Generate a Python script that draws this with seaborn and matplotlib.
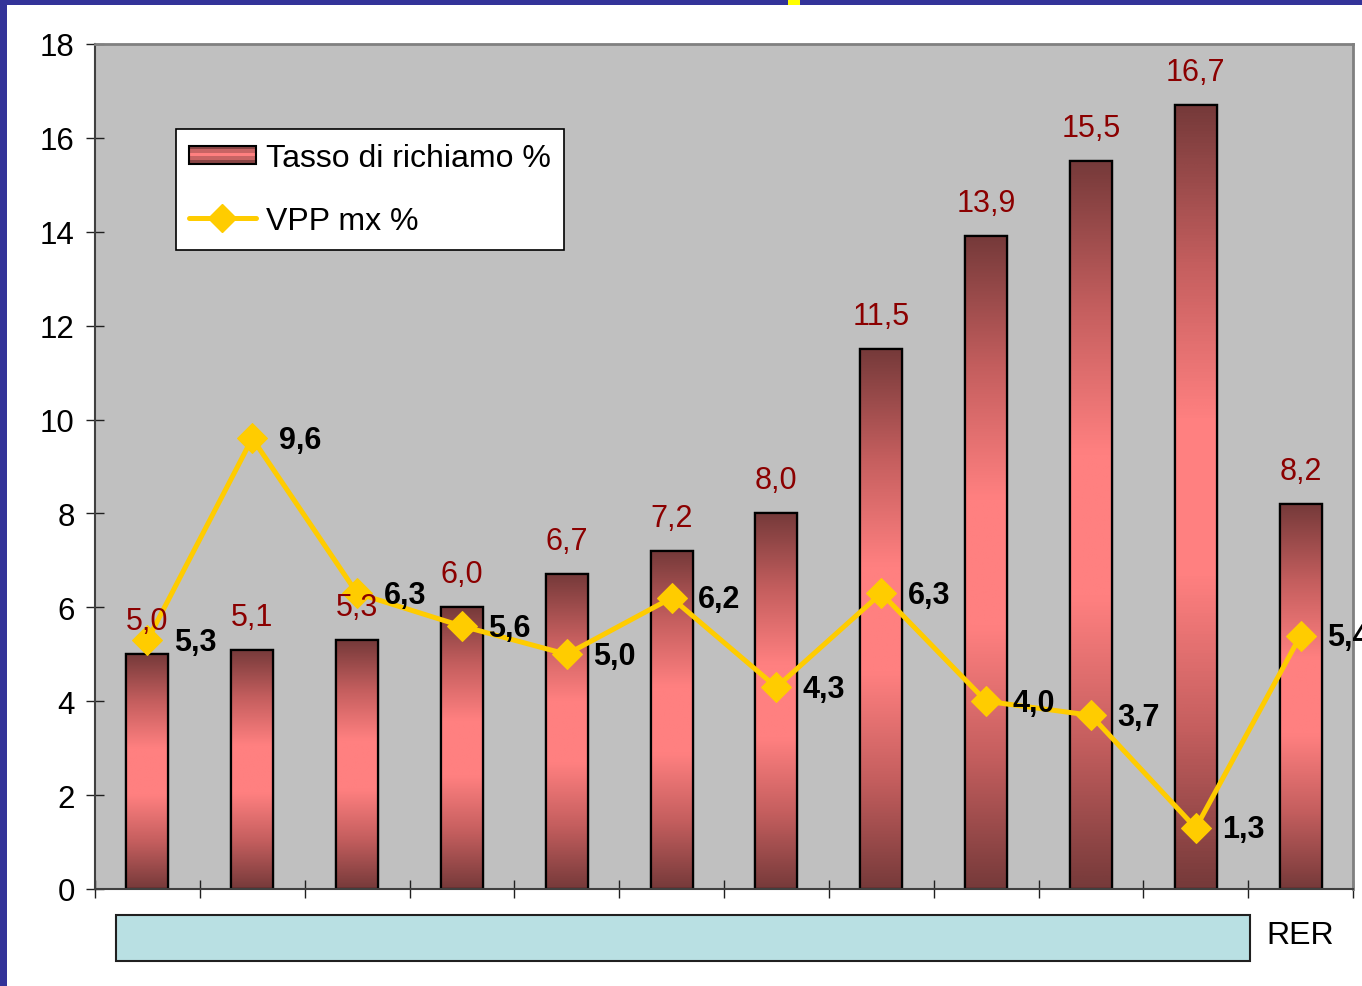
import numpy as np
import pandas as pd
import matplotlib
matplotlib.use("Agg")
import matplotlib.pyplot as plt
from matplotlib.patches import Rectangle
from matplotlib.colors import LinearSegmentedColormap
from matplotlib.legend_handler import HandlerBase
from matplotlib.lines import Line2D
import seaborn as sns

# --- data -------------------------------------------------------------
programs = [f"P{i}" for i in range(1, 12)] + ["RER"]
tick_labels = [""] * 11 + ["RER"]
tasso_richiamo = [5.0, 5.1, 5.3, 6.0, 6.7, 7.2, 8.0, 11.5, 13.9, 15.5, 16.7, 8.2]
vpp_mx = [5.3, 9.6, 6.3, 5.6, 5.0, 6.2, 4.3, 6.3, 4.0, 3.7, 1.3, 5.4]
y_ticks = [0, 2, 4, 6, 8, 10, 12, 14, 16, 18]

df = pd.DataFrame({"programma": programs,
                   "tasso": tasso_richiamo,
                   "vpp": vpp_mx})
df["pos"] = np.arange(len(df))

sns.set_theme(style="white")
plt.rcParams["font.family"] = ["Liberation Sans", "DejaVu Sans"]
for key in ["text.color", "axes.labelcolor", "xtick.color", "ytick.color"]:
    plt.rcParams[key] = "black"

W, H = 1362, 987
fig = plt.figure(figsize=(W / 100, H / 100), dpi=100)
fig.patch.set_facecolor("white")
ax = fig.add_axes([95 / W, 1 - 890 / H, (1353 - 95) / W, (890 - 45) / H])
ax.set_facecolor("#C0C0C0")

# bars
sns.barplot(data=df, x="pos", y="tasso", ax=ax, width=0.4,
            color="#E07070", edgecolor="black", linewidth=1.6,
            native_scale=True, zorder=2)

# vertical dark-pink-dark gradient inside each bar
grad_cmap = LinearSegmentedColormap.from_list(
    "barshade", ["#763A3A", "#C45E5E", "#FF8080", "#FF8080", "#C45E5E", "#763A3A"])
grad = np.linspace(0, 1, 256).reshape(-1, 1)
for patch in ax.patches:
    x0, y0 = patch.get_x(), patch.get_y()
    w, h = patch.get_width(), patch.get_height()
    im = ax.imshow(grad, cmap=grad_cmap, aspect="auto",
                   extent=(x0, x0 + w, y0, y0 + h), origin="lower",
                   zorder=2.1, interpolation="bicubic")
    im.set_clip_path(patch)
    edge = Rectangle((x0, y0), w, h, fill=False, edgecolor="black",
                     linewidth=1.6, zorder=2.2)
    ax.add_patch(edge)

# line with diamonds
sns.lineplot(data=df, x="pos", y="vpp", ax=ax, color="#FFCC00",
             linewidth=3.6, marker="D", markersize=15,
             markeredgecolor="#FFCC00", zorder=4, legend=False)

# value labels
for xi, v in zip(df["pos"], df["tasso"]):
    ax.annotate(f"{v:.1f}".replace(".", ","), (xi, v),
                xytext=(0, 13), textcoords="offset points",
                ha="center", va="bottom", fontsize=22, color="#8B0000",
                zorder=5)
for xi, v in zip(df["pos"], df["vpp"]):
    ax.annotate(f"{v:.1f}".replace(".", ","), (xi, v),
                xytext=(19, -1), textcoords="offset points",
                ha="left", va="center", fontsize=22, color="black",
                fontweight="bold", zorder=5, annotation_clip=False)

# axes
ax.set_xlim(-0.5, len(df) - 0.5)
ax.set_ylim(0, 18)
ax.set_yticks(y_ticks)
ax.set_yticklabels([str(t) for t in y_ticks], fontsize=22.5)
ax.set_xticks(df["pos"])
ax.set_xticklabels(tick_labels, fontsize=23)
ax.set_xticks(np.arange(-0.5, len(df), 1.0), minor=True)
ax.tick_params(axis="x", which="major", bottom=True, length=0, pad=22)
ax.tick_params(axis="x", which="minor", bottom=True, direction="inout",
               length=13, width=1.0, color="#202020")
ax.tick_params(axis="y", left=True, direction="inout", length=13, width=1.0,
               color="#202020", pad=8)
ax.set_xlabel("")
ax.set_ylabel("")
for side in ["left", "bottom"]:
    ax.spines[side].set_color("#404040")
    ax.spines[side].set_linewidth(1.5)
for side in ["top", "right"]:
    ax.spines[side].set_color("#808080")
    ax.spines[side].set_linewidth(2.0)
    ax.spines[side].set_visible(True)


# legend with shaded bar swatch
class ShadedBarHandler(HandlerBase):
    def create_artists(self, legend, orig_handle, xdescent, ydescent,
                       width, height, fontsize, trans):
        h = height * 0.8
        y = -ydescent + (height - h) / 2
        bands = ["#8A4545", "#C86464", "#FF8080", "#C86464", "#8A4545"]
        arts = []
        for i, c in enumerate(bands):
            arts.append(Rectangle((-xdescent, y + i * h / len(bands)), width,
                                  h / len(bands), facecolor=c,
                                  edgecolor="none", transform=trans))
        arts.append(Rectangle((-xdescent, y), width, h, fill=False,
                              edgecolor="black", linewidth=1.5,
                              transform=trans))
        return arts


bar_handle = Rectangle((0, 0), 1, 1)
line_handle = Line2D([], [], color="#FFCC00", linewidth=3.6, marker="D",
                     markersize=14, markeredgecolor="#FFCC00")
leg = ax.legend([bar_handle, line_handle],
                ["Tasso di richiamo %", "VPP mx %"],
                handler_map={Rectangle: ShadedBarHandler()},
                loc="upper left", bbox_to_anchor=(0.064, 0.899),
                borderaxespad=0, fontsize=23, frameon=True, fancybox=False,
                handlelength=2.1, handletextpad=0.3, labelspacing=1.05,
                borderpad=0.42)
leg.get_frame().set_edgecolor("black")
leg.get_frame().set_linewidth(1.2)
leg.get_frame().set_facecolor("white")
leg.get_frame().set_alpha(1)

# band under the category axis
fig.patches.append(Rectangle((116 / W, 1 - 962 / H), (1250 - 116) / W,
                             (962 - 916) / H, transform=fig.transFigure,
                             facecolor="#B9E0E3", edgecolor="#202020",
                             linewidth=1.5, zorder=5))

# page frame
fig.patches.append(Rectangle((0, 1 - 6 / H), 1, 6 / H,
                             transform=fig.transFigure,
                             facecolor="#333399", edgecolor="none"))
fig.patches.append(Rectangle((0, 0), 7 / W, 1, transform=fig.transFigure,
                             facecolor="#333399", edgecolor="none"))
fig.patches.append(Rectangle((788 / W, 1 - 6 / H), 12 / W, 6 / H,
                             transform=fig.transFigure,
                             facecolor="#FFFF00", edgecolor="none"))

fig.savefig("out.png", dpi=100, facecolor=fig.get_facecolor())
